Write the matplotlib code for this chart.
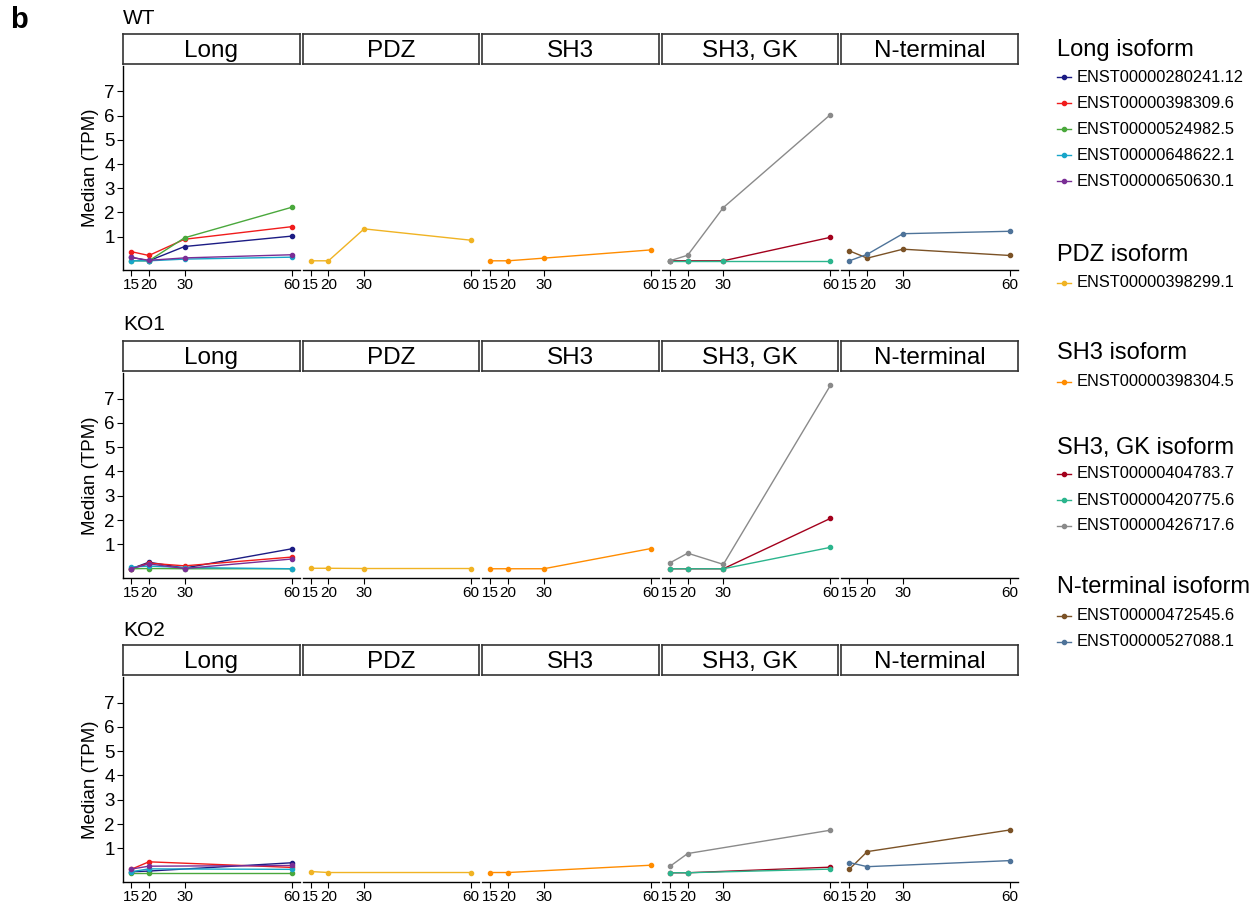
import numpy as np
import matplotlib.pyplot as plt
from matplotlib.lines import Line2D

plt.rcParams['font.family'] = ['Liberation Sans', 'DejaVu Sans']

# ---- data ----
times = [15, 20, 30, 60]
times_ko2 = [15, 20, 60]
rows = ['WT', 'KO1', 'KO2']
facets = ['Long', 'PDZ', 'SH3', 'SH3, GK', 'N-terminal']

long_ids = ['ENST00000280241.12', 'ENST00000398309.6', 'ENST00000524982.5',
            'ENST00000648622.1', 'ENST00000650630.1']
pdz_ids = ['ENST00000398299.1']
sh3_ids = ['ENST00000398304.5']
sh3gk_ids = ['ENST00000404783.7', 'ENST00000420775.6', 'ENST00000426717.6']
nterm_ids = ['ENST00000472545.6', 'ENST00000527088.1']

long_cols = ['#1c1c84', '#f01c1c', '#4aa83c', '#17a5c9', '#7a2e95']
pdz_cols = ['#f0b323']
sh3_cols = ['#ff8c00']
sh3gk_cols = ['#a3001c', '#2bb58d', '#8a8a8a']
nterm_cols = ['#7b5226', '#4e7399']

# WT
wt_long = [[0.15, 0.00, 0.59, 1.02],
           [0.38, 0.22, 0.89, 1.41],
           [0.00, 0.00, 0.95, 2.21],
           [0.00, 0.00, 0.07, 0.15],
           [0.14, 0.02, 0.12, 0.25]]
wt_pdz = [[0.00, 0.00, 1.32, 0.85]]
wt_sh3 = [[0.00, 0.00, 0.11, 0.45]]
wt_sh3gk = [[0.00, 0.00, 0.00, 0.97],
            [0.00, 0.00, 0.00, 0.00],
            [0.00, 0.23, 2.20, 6.04]]
wt_nterm = [[0.41, 0.11, 0.48, 0.22],
            [0.00, 0.27, 1.12, 1.22]]

# KO1
ko1_long = [[0.00, 0.27, 0.03, 0.82],
            [0.00, 0.23, 0.12, 0.48],
            [0.00, 0.01, 0.00, 0.00],
            [0.07, 0.11, 0.05, 0.00],
            [0.00, 0.20, 0.01, 0.40]]
ko1_pdz = [[0.02, 0.02, 0.01, 0.01]]
ko1_sh3 = [[0.00, 0.00, 0.00, 0.83]]
ko1_sh3gk = [[0.00, 0.00, 0.00, 2.07],
             [0.00, 0.00, 0.00, 0.88],
             [0.24, 0.64, 0.18, 7.54]]
ko1_nterm = []

# KO2 (no 30 min sample)
ko2_long = [[0.04, 0.07, 0.41],
            [0.14, 0.45, 0.22],
            [0.01, 0.01, 0.01],
            [0.04, 0.16, 0.14],
            [0.15, 0.27, 0.30]]
ko2_pdz = [[0.05, 0.01, 0.01]]
ko2_sh3 = [[0.01, 0.01, 0.31]]
ko2_sh3gk = [[0.00, 0.00, 0.23],
             [0.00, 0.00, 0.15],
             [0.26, 0.79, 1.75]]
ko2_nterm = [[0.15, 0.87, 1.76],
             [0.42, 0.25, 0.50]]

data = {
    'WT': (times, [wt_long, wt_pdz, wt_sh3, wt_sh3gk, wt_nterm]),
    'KO1': (times, [ko1_long, ko1_pdz, ko1_sh3, ko1_sh3gk, ko1_nterm]),
    'KO2': (times_ko2, [ko2_long, ko2_pdz, ko2_sh3, ko2_sh3gk, ko2_nterm]),
}
colours = [long_cols, pdz_cols, sh3_cols, sh3gk_cols, nterm_cols]
ids = [long_ids, pdz_ids, sh3_ids, sh3gk_ids, nterm_ids]
legend_titles = ['Long isoform', 'PDZ isoform', 'SH3 isoform',
                 'SH3, GK isoform', 'N-terminal isoform']

# ---- layout (pixels) ----
W, H = 1259, 906
fig = plt.figure(figsize=(W / 100, H / 100), dpi=100)


def fx(x):
    return x / W


def fy(y):
    return 1 - y / H


col_left = 123
col_w = 176.6
col_gap = 3
strip_top = [34, 341, 645]
strip_h = 30
panel_bottom = [270, 578, 882]
title_y = [18, 325, 630]

fig.text(fx(10), fy(20), 'b', fontsize=21, fontweight='bold', va='center')

for r, row in enumerate(rows):
    tx, groups = data[row]
    fig.text(fx(col_left), fy(title_y[r]), row, fontsize=15, va='center')
    ptop = strip_top[r] + strip_h + 2
    for c, facet in enumerate(facets):
        x0 = col_left + c * (col_w + col_gap)
        # strip
        sax = fig.add_axes([fx(x0), fy(strip_top[r] + strip_h), fx(col_w), strip_h / H])
        sax.set_xticks([])
        sax.set_yticks([])
        for s in sax.spines.values():
            s.set_color('#333333')
            s.set_linewidth(1.2)
        sax.text(0.5, 0.42, facet, fontsize=17.5, ha='center', va='center',
                 transform=sax.transAxes)
        # panel
        ax = fig.add_axes([fx(x0), fy(panel_bottom[r]), fx(col_w),
                           (panel_bottom[r] - ptop) / H])
        for k, vals in enumerate(groups[c]):
            ax.plot(tx, vals, color=colours[c][k], lw=1.0, marker='o',
                    markersize=3.0, label=ids[c][k])
        ax.set_xlim(12.75, 62.25)
        ax.set_ylim(-0.38, 8.05)
        ax.set_xticks([15, 20, 30, 60])
        ax.tick_params(axis='x', labelsize=11, length=4.5, width=0.8, pad=1.5)
        ax.spines['top'].set_visible(False)
        ax.spines['right'].set_visible(False)
        ax.spines['bottom'].set_linewidth(1.0)
        if c == 0:
            ax.set_yticks([1, 2, 3, 4, 5, 6, 7])
            ax.tick_params(axis='y', labelsize=13.5, length=4.5, width=0.8, pad=1.5)
            ax.spines['left'].set_linewidth(1.0)
            ax.set_ylabel('Median (TPM)', fontsize=13.5, labelpad=4)
        else:
            ax.set_yticks([])
            ax.spines['left'].set_visible(False)

# ---- legend ----
leg_title_y = [50, 255, 353, 448, 587]
leg_entry_y = [[77, 103, 129, 155, 181], [283], [382], [474, 500, 526], [616, 642]]
for g in range(len(legend_titles)):
    fig.text(fx(1057), fy(leg_title_y[g]), legend_titles[g], fontsize=17, va='center')
    for k, lab in enumerate(ids[g]):
        yy = fy(leg_entry_y[g][k])
        fig.add_artist(Line2D([fx(1057), fx(1071)], [yy, yy], color=colours[g][k],
                              lw=1.0, transform=fig.transFigure))
        fig.add_artist(Line2D([fx(1064)], [yy], color=colours[g][k], marker='o',
                              markersize=3.0, transform=fig.transFigure))
        fig.text(fx(1077), yy, lab, fontsize=11.8, va='center')

fig.savefig('out.png', dpi=100)
